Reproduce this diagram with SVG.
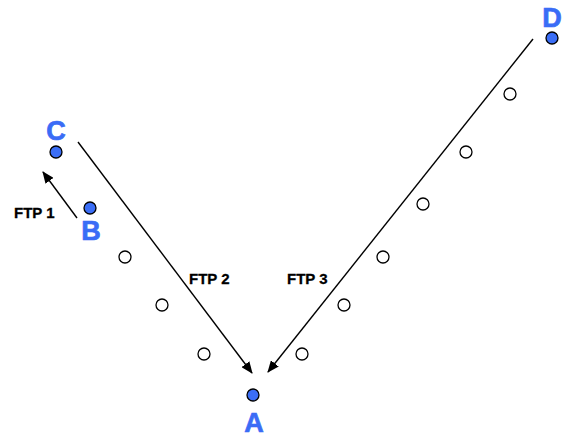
<svg xmlns="http://www.w3.org/2000/svg" width="569" height="439" viewBox="0 0 569 439">
  <style>
    .site { fill: #3b6ef6; stroke: #000; stroke-width: 1.3; }
    .hop { fill: #fff; stroke: #000; stroke-width: 1.3; }
    .name { font-family: "Liberation Sans", Arial, sans-serif; font-weight: bold; font-size: 27px; fill: #3a6cf6; stroke: #3a6cf6; stroke-width: 0.7; text-anchor: middle; }
    .ftp { font-family: "Liberation Sans", Arial, sans-serif; font-weight: bold; font-size: 15px; fill: #000; stroke: #000; stroke-width: 0.3; }
    .link { stroke: #000; stroke-width: 1.4; fill: none; marker-end: url(#head); }
  </style>
  <defs>
    <marker id="head" viewBox="0 0 12 10" refX="11" refY="5" markerWidth="12" markerHeight="10" markerUnits="userSpaceOnUse" orient="auto">
      <path d="M0,0 L12,5 L0,10 Z" fill="#000"/>
    </marker>
  </defs>

  <rect width="569" height="439" fill="#fff"/>

  <g id="connectors">
    <line class="link" x1="77" y1="218" x2="43" y2="172"/>
    <line class="link" x1="78" y1="142" x2="252" y2="373"/>
    <line class="link" x1="533" y1="39" x2="268" y2="372"/>
  </g>

  <g id="hops">
    <circle class="hop" cx="125" cy="257" r="6"/>
    <circle class="hop" cx="162" cy="305" r="6"/>
    <circle class="hop" cx="204" cy="354" r="6"/>
    <circle class="hop" cx="302" cy="354" r="6"/>
    <circle class="hop" cx="344" cy="305" r="6"/>
    <circle class="hop" cx="383" cy="257" r="6"/>
    <circle class="hop" cx="423" cy="204" r="6"/>
    <circle class="hop" cx="466" cy="152" r="6"/>
    <circle class="hop" cx="510" cy="94" r="6"/>
  </g>

  <g id="node-c">
    <circle class="site" cx="56" cy="152" r="6"/>
    <text class="name" x="56" y="140">C</text>
  </g>
  <g id="node-b">
    <circle class="site" cx="90" cy="208" r="6"/>
    <text class="name" x="91" y="240">B</text>
  </g>
  <g id="node-a">
    <circle class="site" cx="253" cy="395" r="6"/>
    <text class="name" x="254" y="432">A</text>
  </g>
  <g id="node-d">
    <circle class="site" cx="552" cy="38" r="6"/>
    <text class="name" x="552" y="27">D</text>
  </g>

  <g id="labels">
    <text class="ftp" x="14" y="218">FTP 1</text>
    <text class="ftp" x="189" y="284">FTP 2</text>
    <text class="ftp" x="287" y="284">FTP 3</text>
  </g>
</svg>
